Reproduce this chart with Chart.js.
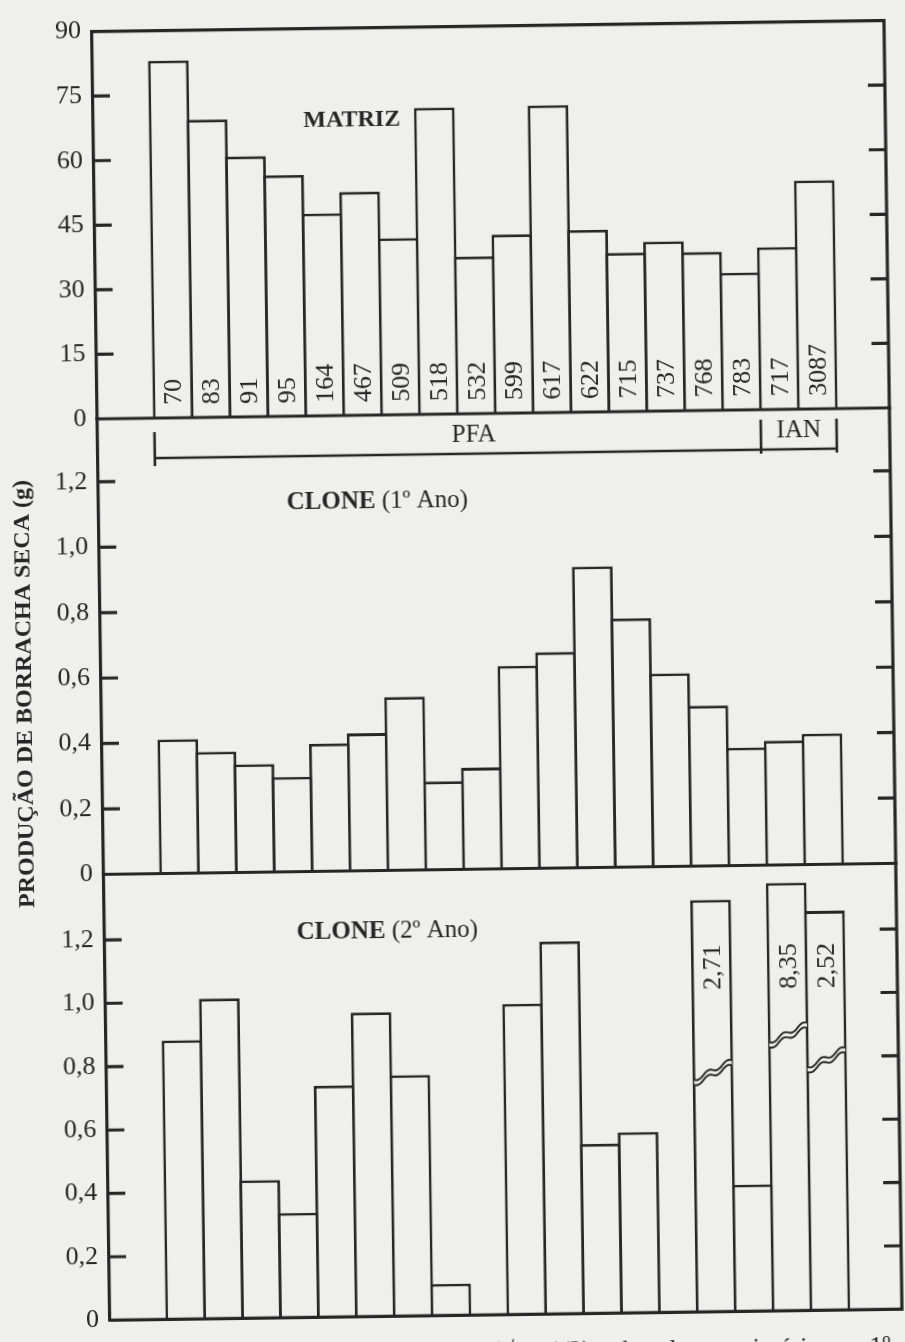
<!DOCTYPE html>
<html><head><meta charset="utf-8">
<script src="https://cdn.jsdelivr.net/npm/chart.js@4.4.1/dist/chart.umd.min.js"></script>
<style>
html,body{margin:0;padding:0;background:#efefec;overflow:hidden;width:905px;height:1342px;}
#wrap{position:absolute;left:0;top:0;width:905px;height:1342px;transform:rotate(-0.8deg);transform-origin:452px 671px;}
canvas{position:absolute;left:0;top:0;}
#caption{position:absolute;left:422px;top:1339px;font:26px/26px "Liberation Serif","DejaVu Serif",serif;color:#262626;white-space:nowrap;}
</style></head><body>
<div id="wrap">
<canvas id="c1" width="905" height="1342"></canvas>
<canvas id="c2" width="905" height="1342"></canvas>
<canvas id="c3" width="905" height="1342"></canvas>
<div id="caption">antes (√2 - 1/2) e dos clones primários no 1º</div>
</div>
<script>
// ---------------- data ----------------
const clones = ['70','83','91','95','164','467','509','518','532','599','617','622','715','737','768','783','717','3087'];
const groups = [{name:'PFA', first:0, last:15}, {name:'IAN', first:16, last:17}];
const matrizValues = [83.0, 69.2, 60.5, 56.0, 47.0, 51.9, 41.0, 71.2, 36.5, 41.5, 71.4, 42.3, 36.9, 39.4, 36.8, 31.9, 37.7, 53.1];
const clone1Values = [0.41, 0.37, 0.33, 0.29, 0.39, 0.42, 0.53, 0.27, 0.31, 0.62, 0.66, 0.92, 0.76, 0.59, 0.49, 0.36, 0.38, 0.40];
const clone2Values = [0.88, 1.01, 0.435, 0.33, 0.73, 0.96, 0.76, 0.10, null, 0.98, 1.175, 0.535, 0.57, null, 2.71, 0.40, 8.35, 2.52];
// off-scale bars of the 2nd year: height at which the broken bar is drawn, and where the break symbol sits
const clone2CutAt   = [null,null,null,null,null,null,null,null,null,null,null,null,null,null,1.30,null,1.35,1.26];
const clone2BreakAt = [null,null,null,null,null,null,null,null,null,null,null,null,null,null,0.755,null,0.87,0.79];
const matrizTicks = [0, 15, 30, 45, 60, 75, 90];
const cloneTicks = [0, 0.2, 0.4, 0.6, 0.8, 1.0, 1.2];
const yTitle = 'PRODUÇÃO DE BORRACHA SECA (g)';

// ---------------- style ----------------
const INK = '#262626';
const PAPER = '#efefec';
const SERIF = '"Liberation Serif","DejaVu Serif",serif';
const SLOT = 37.89;
const BW = 2.8;
Chart.defaults.font.family = SERIF;
Chart.defaults.color = INK;

const fmtInt = v => String(v);
const fmtDec = v => v === 0 ? '0' : v.toFixed(1).replace('.', ',');

function rotText(ctx, text, x, y, font) {
  ctx.save();
  ctx.translate(x, y);
  ctx.rotate(-Math.PI / 2);
  ctx.font = font;
  ctx.textAlign = 'left';
  ctx.textBaseline = 'alphabetic';
  ctx.fillText(text, 0, 0);
  ctx.restore();
}

function framePlugin(drawTop, extra) {
  return {
    id: 'frame',
    afterDatasetsDraw(chart) {
      const {ctx, chartArea: a, scales: {x, y}} = chart;
      ctx.save();
      ctx.strokeStyle = INK; ctx.fillStyle = INK;
      ctx.lineWidth = 3.2; ctx.lineCap = 'square';
      ctx.beginPath();
      if (drawTop) { ctx.moveTo(a.left, a.top); ctx.lineTo(a.right, a.top); }
      ctx.moveTo(a.right, a.top); ctx.lineTo(a.right, a.bottom);
      ctx.moveTo(a.left, a.bottom); ctx.lineTo(a.right, a.bottom);
      ctx.stroke();
      ctx.lineCap = 'butt';
      ctx.beginPath();
      y.ticks.forEach(t => {
        if (t.value <= y.min || t.value >= y.max) return;
        const py = y.getPixelForValue(t.value);
        ctx.moveTo(a.left, py); ctx.lineTo(a.left + 17, py);
        ctx.moveTo(a.right, py); ctx.lineTo(a.right - 17, py);
      });
      ctx.stroke();
      if (extra) extra(chart, ctx, a, x, y);
      ctx.restore();
    }
  };
}

function makeChart(id, values, cfg) {
  return new Chart(document.getElementById(id), {
    type: 'bar',
    data: {
      datasets: [{
        data: values.map((v, i) => ({x: i, y: v})),
        backgroundColor: PAPER,
        borderColor: INK,
        borderWidth: BW,
        borderSkipped: 'start',
        barPercentage: 1 + BW / SLOT,
        categoryPercentage: 1
      }]
    },
    options: {
      responsive: false,
      animation: false,
      events: [],
      layout: {autoPadding: false, padding: {left: 0, right: 12, top: cfg.top, bottom: 1342 - cfg.bottom}},
      plugins: {legend: {display: false}, tooltip: {enabled: false}},
      scales: {
        x: {type: 'linear', min: -2, max: 18.9, offset: false, display: false},
        y: {
          min: 0, max: cfg.max,
          afterBuildTicks: s => { s.ticks = cfg.ticks.map(v => ({value: v})); },
          afterFit: s => { s.width = 101; },
          ticks: {callback: v => cfg.fmt(v), padding: 11, color: INK, font: {family: SERIF, size: 26}},
          grid: {display: true, drawOnChartArea: false, drawTicks: false},
          border: {display: true, width: 3.2, color: INK}
        }
      }
    },
    plugins: [framePlugin(cfg.drawTop, cfg.extra)]
  });
}

// ---------------- panel 1 : MATRIZ ----------------
makeChart('c1', matrizValues, {
  top: 20, bottom: 414, max: 90, ticks: matrizTicks, fmt: fmtInt, drawTop: true,
  extra(chart, ctx, a, x, y) {
    const meta = chart.getDatasetMeta(0);
    const y0 = y.getPixelForValue(0);
    ctx.fillStyle = INK;
    meta.data.forEach((el, i) => {
      rotText(ctx, clones[i], el.x + 8.6, y0 - 13, '26px ' + SERIF);
    });
    // panel title
    ctx.font = 'bold 24px ' + SERIF;
    ctx.textAlign = 'center'; ctx.textBaseline = 'alphabetic';
    ctx.fillText('MATRIZ', x.getPixelForValue(4.82), y.getPixelForValue(69.1) + 8);
    // group brackets below the panel
    const lineY = a.bottom + 40;
    ctx.lineWidth = 2.6; ctx.lineCap = 'butt';
    ctx.beginPath();
    groups.forEach((g, k) => {
      const l = x.getPixelForValue(g.first - 0.5), r = x.getPixelForValue(g.last + 0.5);
      ctx.moveTo(l, lineY); ctx.lineTo(r, lineY);
      if (k === 0) { ctx.moveTo(l, a.bottom + 14); ctx.lineTo(l, a.bottom + 48); }
      else { ctx.moveTo(l, a.bottom + 10); ctx.lineTo(l, a.bottom + 44); }
      if (k === groups.length - 1) { ctx.moveTo(r, a.bottom + 10); ctx.lineTo(r, a.bottom + 44); }
    });
    ctx.stroke();
    ctx.font = '25px ' + SERIF;
    ctx.textAlign = 'center';
    groups.forEach((g, k) => {
      const l = x.getPixelForValue(g.first - 0.5), r = x.getPixelForValue(g.last + 0.5);
      const cx = k === 0 ? (l + r) / 2 + 16 : (l + r) / 2;
      ctx.fillText(g.name, cx, a.bottom + 28);
    });
  }
});

// ---------------- panel 2 : CLONE 1º ano ----------------
function cloneTitle(ctx, x0, base, year) {
  ctx.textAlign = 'left'; ctx.textBaseline = 'alphabetic';
  ctx.font = 'bold 25px ' + SERIF;
  ctx.fillText('CLONE', x0, base);
  const w = ctx.measureText('CLONE').width;
  ctx.font = '25px ' + SERIF;
  ctx.fillText(' (' + year + 'º Ano)', x0 + w, base);
}
makeChart('c2', clone1Values, {
  top: 414, bottom: 869.5, max: 1.3925, ticks: cloneTicks, fmt: fmtDec, drawTop: false,
  extra(chart, ctx, a, x, y) {
    ctx.fillStyle = INK;
    cloneTitle(ctx, 289, y.getPixelForValue(1.133) + 8, 1);
    // common y-axis title
    ctx.save();
    ctx.translate(25, 688);
    ctx.rotate(-Math.PI / 2);
    ctx.font = 'bold 24px ' + SERIF;
    ctx.textAlign = 'center'; ctx.textBaseline = 'middle';
    ctx.fillText(yTitle, 0, 0);
    ctx.restore();
  }
});

// ---------------- panel 3 : CLONE 2º ano ----------------
const clone2Shown = clone2Values.map((v, i) => clone2CutAt[i] != null ? clone2CutAt[i] : v);
makeChart('c3', clone2Shown, {
  top: 869.5, bottom: 1328, max: 1.407, ticks: cloneTicks, fmt: fmtDec, drawTop: false,
  extra(chart, ctx, a, x, y) {
    const meta = chart.getDatasetMeta(0);
    ctx.fillStyle = INK;
    cloneTitle(ctx, 293, y.getPixelForValue(1.2185) + 8, 2);
    meta.data.forEach((el, i) => {
      if (clone2CutAt[i] == null) return;
      const txt = clone2Values[i].toFixed(2).replace('.', ',');
      rotText(ctx, txt, el.x + 8.6, y.getPixelForValue(1.016), '26px ' + SERIF);
      // break symbol
      const yc = y.getPixelForValue(clone2BreakAt[i]);
      const l = el.x - el.width / 2 + BW * 0.5, r = el.x + el.width / 2 - BW * 0.5;
      const rise = 19, amp = 2.2, gap = 5, n = 24;
      const pt = (t, off) => [l + t * (r - l), yc + rise * (0.5 - t) + amp * Math.sin(t * Math.PI * 4) + off];
      ctx.beginPath();
      for (let k = 0; k <= n; k++) { const p = pt(k / n, -gap / 2); k ? ctx.lineTo(p[0], p[1]) : ctx.moveTo(p[0], p[1]); }
      for (let k = n; k >= 0; k--) { const p = pt(k / n, gap / 2); ctx.lineTo(p[0], p[1]); }
      ctx.closePath();
      ctx.fillStyle = PAPER; ctx.fill();
      ctx.fillStyle = INK;
      ctx.lineWidth = 1.9; ctx.strokeStyle = INK;
      [-gap / 2, gap / 2].forEach(off => {
        ctx.beginPath();
        for (let k = 0; k <= n; k++) { const p = pt(k / n, off); k ? ctx.lineTo(p[0], p[1]) : ctx.moveTo(p[0], p[1]); }
        ctx.stroke();
      });
    });
  }
});
</script>
</body></html>
